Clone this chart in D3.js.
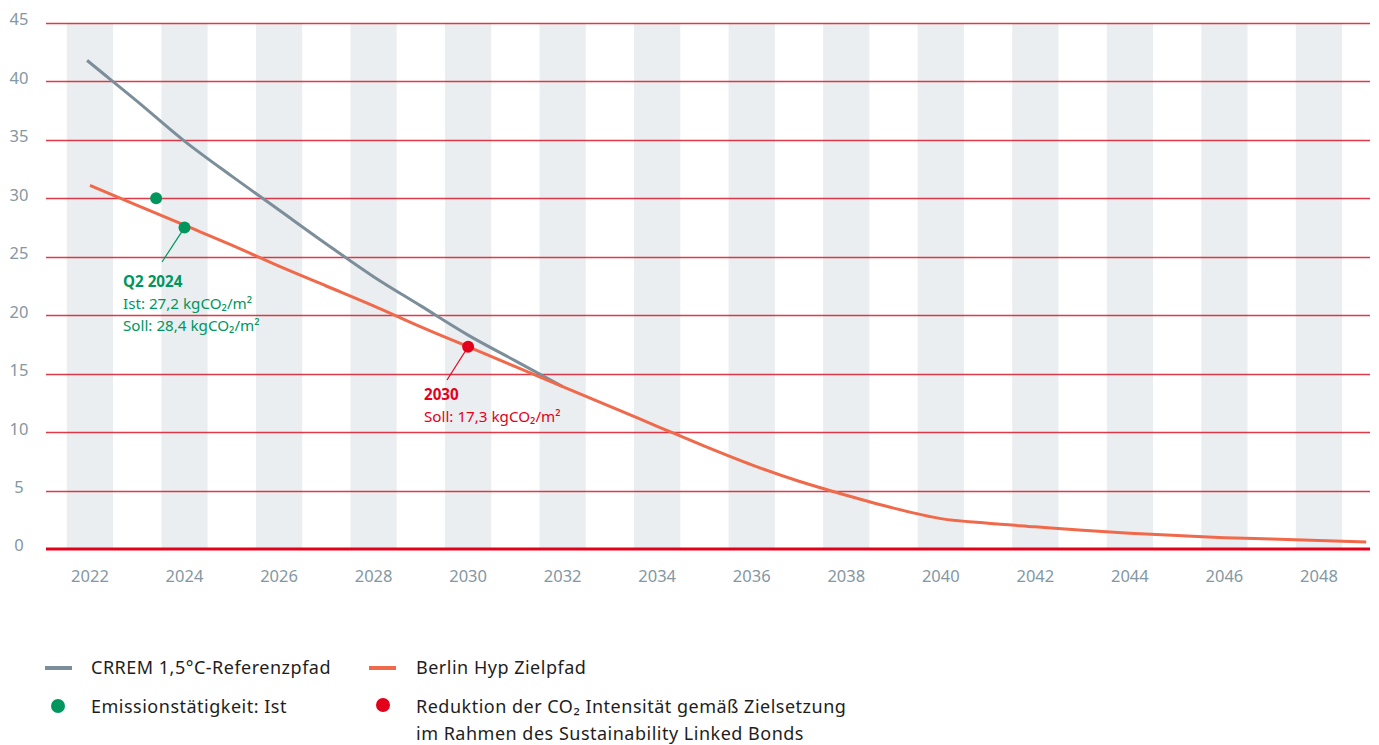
<!DOCTYPE html>
<html><head><meta charset="utf-8">
<script src="https://cdn.jsdelivr.net/npm/d3@7"></script>
<style>body{margin:0;background:#fff}svg{display:block}text{font-family:"Noto Sans",sans-serif}</style>
</head><body><svg id="c" width="1379" height="745"></svg>
<script>
const yTicks = [0,5,10,15,20,25,30,35,40,45];
const xTicks = [2022,2024,2026,2028,2030,2032,2034,2036,2038,2040,2042,2044,2046,2048];
const crremYears = [2021.94,2022,2023,2024,2025,2026,2027,2028,2029,2030,2031,2032];
const crremValues = [41.8,41.6,38.3,34.9,31.9,29.0,26.1,23.3,20.8,18.3,16.1,13.9];
const zielYears = [2022,2023,2024,2025,2026,2027,2028,2029,2030,2031,2032,2033,2034,2035,2036,2037,2038,2039,2040,2041,2042,2043,2044,2045,2046,2047,2048,2049];
const zielValues = [31.1,29.4,27.7,26.0,24.2,22.5,20.8,19.0,17.3,15.6,13.9,12.2,10.5,8.8,7.2,5.8,4.6,3.5,2.6,2.2,1.9,1.6,1.35,1.15,0.97,0.85,0.72,0.6];
const istYears = [2023.4,2024];
const istValues = [30.0,27.5];
const sollYears = [2030];
const sollValues = [17.3];

const svg = d3.select("#c");
const x = d3.scaleLinear().domain([2021.07,2049.08]).range([46,1370]);
const y = d3.scaleLinear().domain([0,45]).range([549,23]);
const pxYear = x(2023)-x(2022);

svg.append("g").selectAll("rect").data(xTicks).join("rect")
  .attr("x", d=>x(d)-pxYear/2+0.5).attr("width", pxYear-1)
  .attr("y", y(45)).attr("height", y(0)-y(45)).attr("fill","#ebeef1");

svg.append("g").selectAll("line").data(yTicks.filter(d=>d>0)).join("line")
  .attr("x1",46).attr("x2",1370).attr("y1",d=>Math.round(y(d))+0.5).attr("y2",d=>Math.round(y(d))+0.5)
  .attr("stroke","#d9182b").attr("stroke-width",1.3).attr("opacity",0.85);

svg.append("g").selectAll("text").data(yTicks).join("text")
  .attr("x",19).attr("y",d=>y(d)-2).attr("text-anchor","middle").attr("dominant-baseline","middle")
  .attr("font-size",16.5).attr("fill","#8497a3").text(d=>d);

svg.append("g").selectAll("text").data(xTicks).join("text")
  .attr("x",d=>x(d)).attr("y",578).attr("text-anchor","middle").attr("dominant-baseline","middle")
  .attr("font-size",16.5).attr("fill","#8497a3").text(d=>d);

const lineC = d3.line().curve(d3.curveMonotoneX).x(d=>x(d[0])).y(d=>y(d[1]));

svg.append("path").datum(crremYears.map((d,i)=>[d,crremValues[i]]))
  .attr("d",lineC).attr("fill","none").attr("stroke","#7b8e99").attr("stroke-width",3);
svg.append("path").datum(zielYears.map((d,i)=>[d,zielValues[i]]))
  .attr("d",lineC).attr("fill","none").attr("stroke","#f0694a").attr("stroke-width",3);

svg.append("line").attr("x1",46).attr("x2",1370).attr("y1",y(0)).attr("y2",y(0))
  .attr("stroke","#e3001b").attr("stroke-width",3);

svg.append("line").attr("x1",x(istYears[1])).attr("y1",y(istValues[1])).attr("x2",162).attr("y2",262)
  .attr("stroke","#00965e").attr("stroke-width",1.2);
svg.append("line").attr("x1",x(sollYears[0])).attr("y1",y(sollValues[0])).attr("x2",447).attr("y2",380)
  .attr("stroke","#e3001b").attr("stroke-width",1.2);

svg.append("g").selectAll("circle").data(istYears.map((d,i)=>[d,istValues[i]])).join("circle")
  .attr("cx",d=>x(d[0])).attr("cy",d=>y(d[1])).attr("r",6).attr("fill","#00965e");
svg.append("g").selectAll("circle").data(sollYears.map((d,i)=>[d,sollValues[i]])).join("circle")
  .attr("cx",d=>x(d[0])).attr("cy",d=>y(d[1])).attr("r",6).attr("fill","#e3001b");

function ann(x0, y0, lines, color){
  const t = svg.append("text").attr("x",x0).attr("y",y0).attr("fill",color).attr("font-size",15.2);
  lines.forEach((l,i)=>{
    t.append("tspan").attr("x",x0).attr("dy", i===0?0:22).attr("font-weight", i===0?"bold":"normal").text(l);
  });
}
ann(123, 287, ["Q2 2024","Ist: 27,2 kgCO₂/m²","Soll: 28,4 kgCO₂/m²"], "#00965e");
ann(424, 400, ["2030","Soll: 17,3 kgCO₂/m²"], "#e3001b");

const lg = svg.append("g");
lg.append("line").attr("x1",45).attr("x2",72).attr("y1",668).attr("y2",668).attr("stroke","#7b8e99").attr("stroke-width",4);
lg.append("line").attr("x1",369).attr("x2",396).attr("y1",668).attr("y2",668).attr("stroke","#f0694a").attr("stroke-width",4);
lg.append("circle").attr("cx",58).attr("cy",706).attr("r",7).attr("fill","#00965e");
lg.append("circle").attr("cx",383).attr("cy",705).attr("r",7).attr("fill","#e3001b");
const lt = [[91,674,"CRREM 1,5°C-Referenzpfad"],[416,674,"Berlin Hyp Zielpfad"],[91,713,"Emissionstätigkeit: Ist"],[416,713,"Reduktion der CO₂ Intensität gemäß Zielsetzung"],[416,740,"im Rahmen des Sustainability Linked Bonds"]];
lg.selectAll("text").data(lt).join("text").attr("x",d=>d[0]).attr("y",d=>d[1]).attr("font-size",18).attr("letter-spacing",0.5).attr("fill","#1e1e1e").text(d=>d[2]);
</script></body></html>
